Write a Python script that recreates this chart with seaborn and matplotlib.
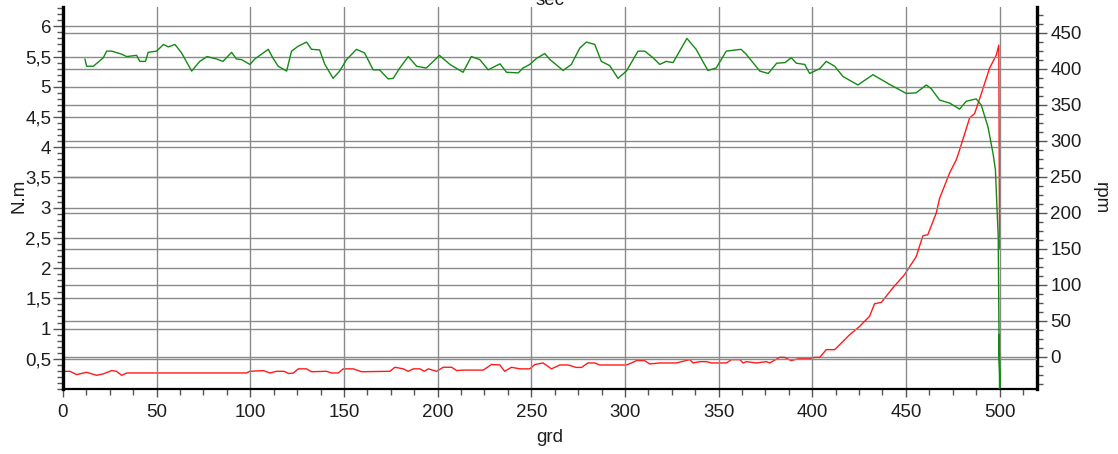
import matplotlib
matplotlib.use("Agg")
import matplotlib.pyplot as plt
from matplotlib.ticker import MultipleLocator, FixedLocator, FuncFormatter
import seaborn as sns
import pandas as pd

# ---- data ----
green_x = [11.7, 12.6, 16.2, 21.5, 23.3, 26.0, 31.3, 34.0, 39.3, 41.0, 44.0, 45.5, 50.0, 53.6, 56.2,
           59.8, 63.3, 68.7, 73.0, 76.9, 82.0, 85.4, 90.0, 92.6, 95.3, 99.8, 102.4, 106.0, 109.6,
           112.0, 114.9, 119.4, 122.0, 125.5, 130.0, 132.7, 137.0, 139.8, 144.2, 147.7, 151.4,
           156.7, 161.0, 165.6, 169.0, 173.6, 176.3, 179.8, 184.3, 188.8, 194.0, 201.0, 206.6,
           213.6, 218.0, 222.5, 227.0, 233.3, 236.8, 243.0, 245.6, 249.2, 252.8, 257.2, 260.0,
           267.0, 271.4, 275.9, 279.4, 283.9, 287.4, 291.9, 296.3, 300.8, 307.0, 310.6, 315.0,
           318.6, 322.0, 325.7, 329.2, 333.1, 338.0, 344.3, 348.7, 354.1, 362.0, 364.7, 372.0,
           376.5, 381.0, 385.4, 388.8, 391.5, 396.0, 398.6, 404.0, 407.5, 412.0, 416.4, 424.4,
           432.4, 441.3, 450.2, 455.5, 460.9, 463.5, 468.0, 473.4, 478.7, 482.2, 487.5, 490.2,
           493.8, 496.5, 497.8, 498.6, 499.3, 499.7, 500.2, 499.8, 500.0]
green_nm = [5.46, 5.34, 5.34, 5.48, 5.59, 5.59, 5.54, 5.50, 5.52, 5.42, 5.42, 5.57, 5.59, 5.70, 5.66,
            5.70, 5.56, 5.26, 5.42, 5.50, 5.46, 5.42, 5.57, 5.46, 5.45, 5.37, 5.46, 5.54, 5.62,
            5.48, 5.34, 5.26, 5.59, 5.67, 5.74, 5.62, 5.61, 5.37, 5.14, 5.26, 5.45,
            5.62, 5.56, 5.28, 5.28, 5.13, 5.14, 5.31, 5.50, 5.34, 5.31, 5.52, 5.37,
            5.24, 5.50, 5.45, 5.28, 5.38, 5.24, 5.23, 5.31, 5.37, 5.47, 5.55, 5.45,
            5.27, 5.37, 5.64, 5.74, 5.70, 5.42, 5.35, 5.14, 5.26, 5.59, 5.59, 5.48,
            5.37, 5.42, 5.40, 5.59, 5.80, 5.62, 5.27, 5.31, 5.59, 5.62, 5.54, 5.26,
            5.22, 5.39, 5.40, 5.48, 5.39, 5.37, 5.22, 5.30, 5.42, 5.34, 5.17, 5.03,
            5.20, 5.04, 4.89, 4.90, 5.03, 4.97, 4.78, 4.73, 4.63, 4.76, 4.80, 4.70,
            4.34, 3.90, 3.63, 3.02, 2.52, 0.90, 0.02, 0.90, 0.0]

red_x = [0.0, 3.7, 7.3, 12.6, 18.0, 21.5, 26.0, 28.6, 31.3, 34.0, 98.0, 99.8, 107.0, 110.5, 114.0,
         118.0, 120.5, 123.0, 125.6, 130.0, 132.7, 140.7, 143.4, 147.0, 149.6, 155.0, 159.4,
         174.5, 177.2, 181.7, 184.3, 187.0, 190.5, 193.0, 195.0, 199.5, 203.0, 207.5, 210.2,
         213.7, 224.4, 228.7, 233.2, 235.8, 239.4, 243.9, 249.2, 251.9, 256.3, 260.8, 265.2,
         269.7, 274.0, 276.8, 280.3, 283.9, 286.5, 300.8, 303.5, 306.1, 310.6, 313.2, 318.6,
         327.5, 331.0, 334.6, 336.4, 340.0, 343.6, 346.2, 354.2, 356.9, 361.3, 363.1, 364.9,
         370.2, 375.5, 377.3, 382.6, 385.2, 388.8, 392.4, 398.6, 401.3, 404.0, 407.5, 412.0,
         420.0, 425.3, 430.6, 433.3, 436.9, 443.0, 449.3, 455.5, 459.1, 461.7, 466.2, 468.0,
         473.3, 476.9, 478.7, 484.0, 486.7, 490.2, 494.7, 498.3, 499.6, 500.0]
red_rpm = [-20.4, -20.4, -25.0, -21.8, -26.0, -24.0, -19.4, -20.4, -26.0, -22.7, -22.7, -20.4, -19.4,
           -22.7, -20.4, -20.4, -23.5, -22.7, -17.0, -17.0, -21.0, -20.4, -22.7, -22.7, -17.0,
           -17.0, -21.0, -20.4, -14.8, -17.0, -20.4, -17.0, -17.0, -20.4, -17.0, -20.4, -14.8,
           -14.8, -19.4, -18.7, -18.7, -11.0, -11.5, -20.4, -14.8, -17.0, -17.0, -11.0, -8.8,
           -17.0, -11.6, -11.6, -15.0, -15.0, -8.8, -8.8, -11.6, -11.6, -8.8, -5.6, -5.6, -10.2,
           -8.8, -8.8, -6.5, -4.2, -8.8, -7.0, -7.0, -8.8, -8.8, -4.2, -4.2, -8.8, -7.0, -8.8,
           -7.0, -8.8, -1.0, -1.0, -5.6, -3.0, -3.0, -1.0, -1.0, 9.7, 9.7, 30.5, 42.0, 56.0,
           73.6, 75.4, 95.4, 114.0, 139.0, 168.0, 169.4, 199.5, 220.0, 255.0, 273.6, 287.5,
           331.5, 338.0, 365.0, 401.0, 419.4, 433.0, 150.0]

left_ticks = [0.5, 1, 1.5, 2, 2.5, 3, 3.5, 4, 4.5, 5, 5.5, 6]
right_ticks = [0, 50, 100, 150, 200, 250, 300, 350, 400, 450]
x_ticks = [0, 50, 100, 150, 200, 250, 300, 350, 400, 450, 500]

green_df = pd.DataFrame({"grd": green_x, "N.m": green_nm})
red_df = pd.DataFrame({"grd": red_x, "rpm": red_rpm})

# ---- style ----
sns.set_style("white")
plt.rcParams["font.family"] = ["Liberation Sans", "DejaVu Sans"]
FS = 13.5
plt.rcParams["font.size"] = FS

W, H = 1118, 454
fig = plt.figure(figsize=(W / 100, H / 100), dpi=100)
L, R, B, T = 63, 1037, 389, 7
ax = fig.add_axes([L / W, 1 - B / H, (R - L) / W, (B - T) / H])
ax2 = ax.twinx()
ax.set_zorder(ax2.get_zorder() + 1)
ax.patch.set_visible(False)
ax2.patch.set_facecolor("white")

grid_kw = dict(color="#8a8a8a", linewidth=1.0)

# red (rpm) on the back axis
sns.lineplot(data=red_df, x="grd", y="rpm", ax=ax2, sort=False, estimator=None,
             color="#ff1a1a", linewidth=1.0, zorder=3)
# green (N.m) on the front axis
sns.lineplot(data=green_df, x="grd", y="N.m", ax=ax, sort=False, estimator=None,
             color="#138a13", linewidth=1.0, zorder=3)

ax.set_xlim(0, 520)
ax.set_ylim(0, 6.32)
ax2.set_ylim(-45, 486)

ax.xaxis.set_major_locator(FixedLocator(x_ticks))
ax.xaxis.set_minor_locator(MultipleLocator(12.5))
ax.yaxis.set_major_locator(FixedLocator(left_ticks))
ax.yaxis.set_minor_locator(MultipleLocator(0.1))
ax2.yaxis.set_major_locator(FixedLocator(right_ticks))
ax2.yaxis.set_minor_locator(MultipleLocator(12.5))

def comma(v, pos):
    s = ("%g" % v)
    return s.replace(".", ",")

ax.yaxis.set_major_formatter(FuncFormatter(comma))

# grids: rpm lines on the back axis, N.m lines and vertical lines on the front axis
ax2.grid(True, axis="y", which="major", **grid_kw, zorder=0)
ax2.set_axisbelow(True)
ax.grid(True, axis="y", which="major", **grid_kw)
ax.grid(True, axis="x", which="major", **grid_kw)
ax.set_axisbelow(True)

# spines
for s in ["top", "right"]:
    ax.spines[s].set_visible(False)
for s in ["top", "left", "bottom"]:
    ax2.spines[s].set_visible(False)
ax.spines["left"].set_linewidth(2.4)
ax.spines["left"].set_color("black")
ax.spines["bottom"].set_linewidth(1.6)
ax.spines["bottom"].set_color("black")
ax2.spines["right"].set_linewidth(2.4)
ax2.spines["right"].set_color("black")

tick_col = "#555555"
lab_col = "#1e1e1e"
ax.tick_params(axis="x", which="major", direction="out", length=6, width=1, color=tick_col,
               pad=5, labelcolor=lab_col, labelsize=FS, bottom=True)
ax.tick_params(axis="x", which="minor", direction="out", length=4, width=1, color=tick_col, bottom=True)
ax.tick_params(axis="y", which="major", direction="out", length=7.5, width=1, color=tick_col,
               pad=1, labelcolor=lab_col, labelsize=FS, left=True)
ax.tick_params(axis="y", which="minor", direction="out", length=4, width=1, color=tick_col, left=True)
ax2.tick_params(axis="y", which="major", direction="out", length=7.5, width=1, color=tick_col,
                pad=2, labelcolor=lab_col, labelsize=FS, right=True)
ax2.tick_params(axis="y", which="minor", direction="out", length=4, width=1, color=tick_col, right=True)

ax.set_xlabel("")
ax.set_ylabel("")
ax2.set_ylabel("")

fig.text(550 / W, 1 - 437 / H, "grd", ha="center", va="center", fontsize=FS, color=lab_col)
fig.text(19 / W, 1 - 196 / H, "N.m", ha="center", va="center", rotation=90, fontsize=FS, color=lab_col)
fig.text(1100 / W, 1 - 198 / H, "rpm", ha="center", va="center", rotation=-90, fontsize=FS, color=lab_col)
fig.text(550 / W, 1 - 5 / H, "sec", ha="center", va="baseline", fontsize=FS, color=lab_col)

fig.savefig("out.png", dpi=100)
